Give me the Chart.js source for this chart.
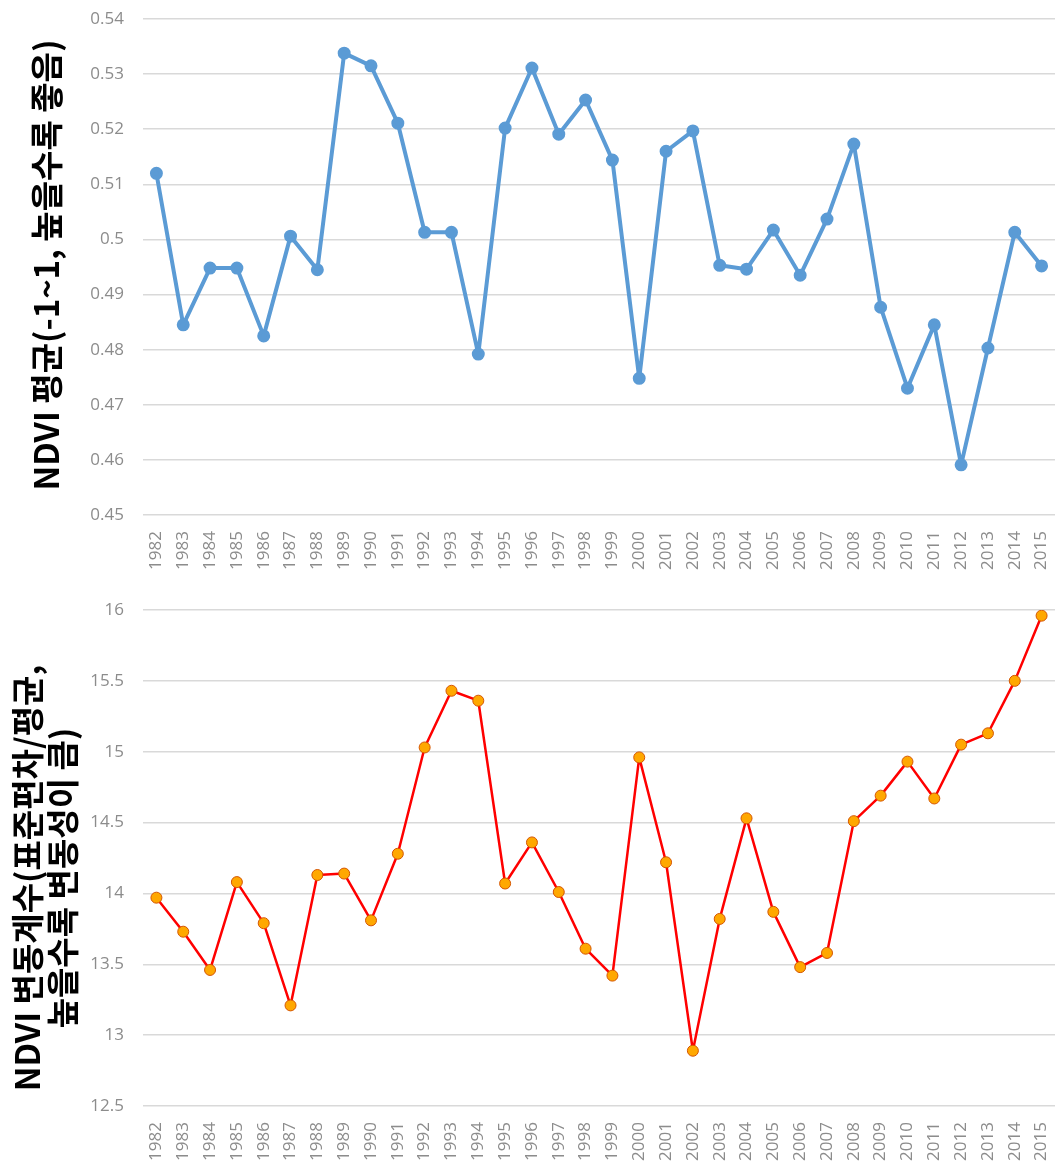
<!DOCTYPE html>
<html>
<head>
<meta charset="utf-8">
<script src="https://cdn.jsdelivr.net/npm/chart.js@4/dist/chart.umd.min.js"></script>
<style>
  body { margin: 0; background: #fff; }
  .box { position: relative; width: 1055px; }
</style>
</head>
<body>
<div class="box" style="height:575px"><canvas id="meanChart"></canvas></div>
<div class="box" style="height:590px"><canvas id="cvChart"></canvas></div>
<script>
// years on the x axis
const years = [1982, 1983, 1984, 1985, 1986, 1987, 1988, 1989, 1990, 1991, 1992, 1993,
    1994, 1995, 1996, 1997, 1998, 1999, 2000, 2001, 2002, 2003, 2004, 2005, 2006, 2007,
    2008, 2009, 2010, 2011, 2012, 2013, 2014, 2015].map(String);

// NDVI mean per year
const ndviMean = [0.512, 0.4845, 0.4948, 0.4948, 0.4825, 0.5006, 0.4945, 0.5338, 0.5315,
    0.5211, 0.5013, 0.5013, 0.4792, 0.5202, 0.5311, 0.5191, 0.5253, 0.5144, 0.4748,
    0.516, 0.5197, 0.4953, 0.4946, 0.5017, 0.4935, 0.5037, 0.5173, 0.4877, 0.473,
    0.4845, 0.4591, 0.4803, 0.5013, 0.4952];

// NDVI coefficient of variation per year
const ndviCv = [13.97, 13.73, 13.46, 14.08, 13.79, 13.21, 14.13, 14.14, 13.81, 14.28,
    15.03, 15.43, 15.36, 14.07, 14.36, 14.01, 13.61, 13.42, 14.96, 14.22, 12.89, 13.82,
    14.53, 13.87, 13.48, 13.58, 14.51, 14.69, 14.93, 14.67, 15.05, 15.13, 15.50, 15.96];

const tickFont = { family: "'Open Sans', 'Noto Sans', sans-serif", size: 17 };

// rotated y-axis title, drawn beside the plot
const sideTitle = {
    id: 'sideTitle',
    afterDraw(chart, args, opts) {
        const ctx = chart.ctx;
        const lines = opts.lines;
        ctx.save();
        ctx.translate(opts.x, opts.y);
        ctx.rotate(-Math.PI / 2);
        ctx.font = "bold 33px 'Noto Sans CJK KR', sans-serif";
        ctx.fillStyle = '#000';
        ctx.textAlign = 'center';
        ctx.textBaseline = 'middle';
        lines.forEach((t, i) => {
            ctx.fillText(t, 0, (i - (lines.length - 1) / 2) * 35);
        });
        ctx.restore();
    }
};

function makeOptions(yMin, yMax, step, digits, titleOpts, padTop, xHeight) {
    return {
        responsive: true,
        maintainAspectRatio: false,
        animation: false,
        layout: { autoPadding: false, padding: { top: padTop, right: 0, left: 0, bottom: 0 } },
        plugins: {
            legend: { display: false },
            tooltip: { enabled: false },
            sideTitle: titleOpts
        },
        scales: {
            x: {
                offset: true,
                grid: { display: false },
                border: { display: false },
                ticks: {
                    color: '#8c8c8c',
                    font: tickFont,
                    minRotation: 90,
                    maxRotation: 90,
                    padding: 8,
                    autoSkip: false
                },
                afterFit: (s) => {
                    s.height = xHeight;
                    s.paddingLeft = 0;
                    s.paddingRight = 0;
                }
            },
            y: {
                min: yMin,
                max: yMax,
                grid: { color: '#d9d9d9', lineWidth: 1.5, drawTicks: false },
                border: { display: false },
                ticks: {
                    stepSize: step,
                    color: '#8c8c8c',
                    font: tickFont,
                    padding: 19,
                    callback: (v) => String(+v.toFixed(digits))
                },
                afterFit: (s) => {
                    s.width = 143;
                    s.paddingTop = 0;
                    s.paddingBottom = 0;
                }
            }
        }
    };
}

new Chart(document.getElementById('meanChart').getContext('2d'), {
    type: 'line',
    data: {
        labels: years,
        datasets: [{
            data: ndviMean,
            borderColor: '#5b9bd5',
            borderWidth: 4,
            borderJoinStyle: 'round',
            pointRadius: 4.5,
            pointBackgroundColor: '#5b9bd5',
            pointBorderColor: '#5b9bd5',
            tension: 0
        }]
    },
    options: makeOptions(0.45, 0.54, 0.01, 2,
        { lines: ['NDVI 평균(-1~1, 높을수록 좋음)'], x: 46, y: 265 }, 19, 60),
    plugins: [sideTitle]
});

new Chart(document.getElementById('cvChart').getContext('2d'), {
    type: 'line',
    data: {
        labels: years,
        datasets: [{
            data: ndviCv,
            borderColor: '#ff0000',
            borderWidth: 2.5,
            borderJoinStyle: 'round',
            pointRadius: 5.5,
            pointBorderWidth: 1,
            pointBackgroundColor: '#ffa800',
            pointBorderColor: '#d45500',
            tension: 0
        }]
    },
    options: makeOptions(12.5, 16, 0.5, 1,
        { lines: ['NDVI 변동계수(표준편차/평균,', '높을수록 변동성이 큼)'], x: 45, y: 303 }, 35, 59),
    plugins: [sideTitle]
});
</script>
</body>
</html>
